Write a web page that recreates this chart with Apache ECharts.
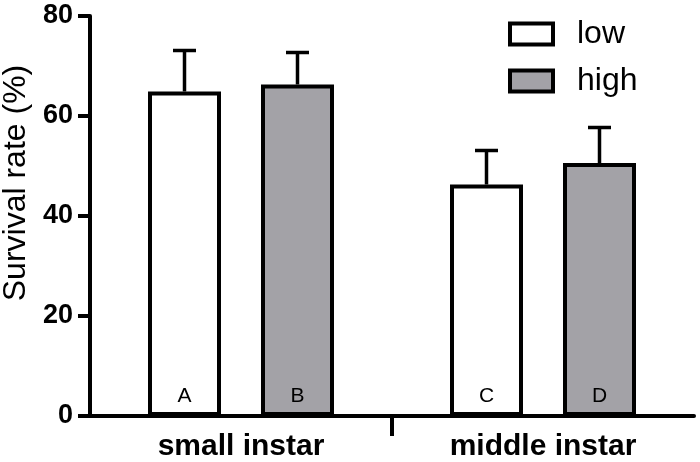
<!DOCTYPE html>
<html>
<head>
<meta charset="utf-8">
<script src="https://cdn.jsdelivr.net/npm/echarts@6/dist/echarts.min.js"></script>
<style>
  html, body { margin: 0; padding: 0; background: #fff; }
  #chart { width: 700px; height: 462px; }
</style>
</head>
<body>
<div id="chart"></div>
<script>
// data
const categories = ['small instar', 'middle instar'];
const seriesNames = ['low', 'high'];
const lowMean = [64.9, 46.3];
const lowErr = [8.2, 6.8];
const highMean = [66.3, 50.6];
const highErr = [6.4, 7.1];
const lowLetters = ['A', 'C'];
const highLetters = ['B', 'D'];
const yTicks = [0, 20, 40, 60, 80];

const FONT = '"Liberation Sans", Arial, Helvetica, sans-serif';
const BAR_W = 73;
const BAR_GAP_PX = 40;
const OFFSET = (BAR_W + BAR_GAP_PX) / 2;

const chart = echarts.init(document.getElementById('chart'));

function errorSeries(mean, err, sign) {
  return {
    type: 'custom',
    xAxisIndex: 0,
    yAxisIndex: 0,
    z: 1,
    silent: true,
    data: mean.map((m, i) => [i, m, m + err[i]]),
    renderItem(params, api) {
      const base = api.coord([api.value(0), api.value(1)]);
      const top = api.coord([api.value(0), api.value(2)]);
      const x = base[0] + sign * OFFSET;
      const st = { stroke: '#000', lineWidth: 3.5 };
      return {
        type: 'group',
        children: [
          { type: 'line', shape: { x1: x, y1: base[1], x2: x, y2: top[1] }, style: st },
          { type: 'line', shape: { x1: x - 11.5, y1: top[1], x2: x + 11.5, y2: top[1] }, style: st }
        ]
      };
    }
  };
}

function barSeries(name, mean, letters, color) {
  return {
    name,
    type: 'bar',
    xAxisIndex: 0,
    barWidth: BAR_W,
    barGap: (BAR_GAP_PX / BAR_W * 100) + '%',
    z: 2,
    itemStyle: { color, borderColor: '#000', borderWidth: 4 },
    label: {
      show: true,
      position: 'insideBottom',
      distance: 9,
      fontFamily: FONT,
      fontSize: 21,
      color: '#000',
      formatter: (p) => letters[p.dataIndex]
    },
    data: mean
  };
}

const option = {
  animation: false,
  grid: { left: 90, right: 6, top: 16, bottom: 46, outerBoundsMode: 'none', containLabel: false },
  legend: {
    data: seriesNames,
    orient: 'vertical',
    left: 503,
    top: 13,
    itemWidth: 43,
    itemHeight: 21,
    itemGap: 15,
    icon: 'rect',
    itemStyle: { borderColor: '#000', borderWidth: 4 },
    textStyle: { fontFamily: FONT, fontSize: 32, color: '#000', padding: [0, 0, 0, 19] }
  },
  xAxis: [
    {
      type: 'category',
      data: categories,
      position: 'bottom',
      axisLine: { lineStyle: { color: '#000', width: 4 } },
      axisTick: { show: false },
      axisLabel: { fontFamily: FONT, fontSize: 30, fontWeight: 'bold', color: '#000', margin: 16 }
    },
    {
      type: 'value',
      min: 0,
      max: 2,
      position: 'bottom',
      axisLine: { show: false },
      axisLabel: { show: false },
      splitLine: { show: false },
      axisTick: { show: true, length: 20, customValues: [1], lineStyle: { color: '#000', width: 4 } }
    }
  ],
  yAxis: {
    type: 'value',
    min: yTicks[0],
    max: yTicks[yTicks.length - 1],
    interval: 20,
    name: 'Survival rate (%)',
    nameLocation: 'middle',
    nameGap: 55,
    nameRotate: 90,
    nameTextStyle: { fontFamily: FONT, fontSize: 32, color: '#000', padding: [0, 0, 0, 66] },
    axisLine: { show: true, lineStyle: { color: '#000', width: 4 } },
    axisTick: { show: true, length: 12, lineStyle: { color: '#000', width: 4 } },
    axisLabel: { fontFamily: FONT, fontSize: 27, fontWeight: 'bold', color: '#000', margin: 17 },
    splitLine: { show: false }
  },
  series: [
    barSeries(seriesNames[0], lowMean, lowLetters, '#ffffff'),
    barSeries(seriesNames[1], highMean, highLetters, '#a3a2a7'),
    errorSeries(lowMean, lowErr, -1),
    errorSeries(highMean, highErr, 1)
  ]
};

chart.setOption(option);
</script>
</body>
</html>
